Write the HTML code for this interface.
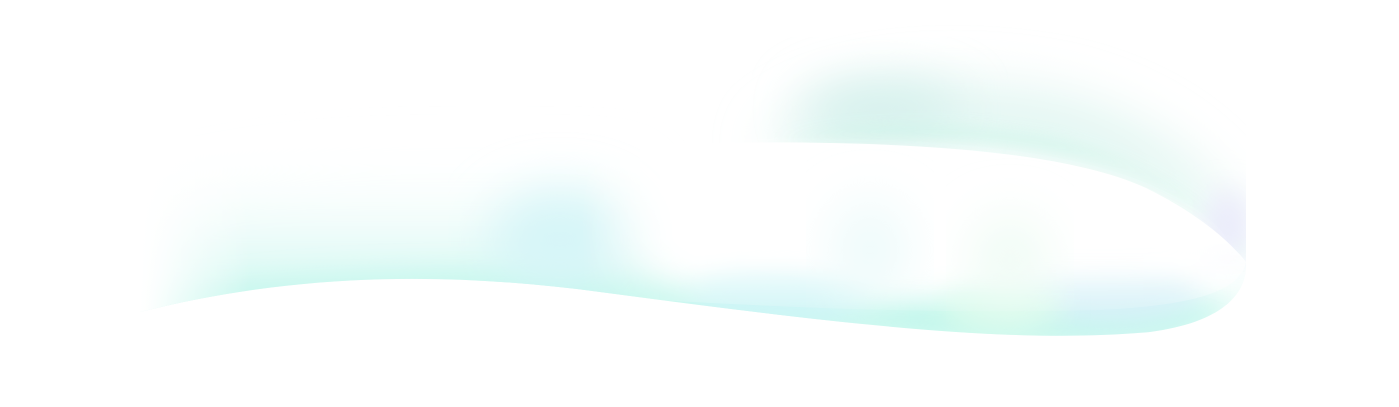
<!DOCTYPE html>
<html>
<head>
<meta charset="utf-8">
<style>
  html,body{margin:0;padding:0;background:#fff;}
  body{width:1399px;height:407px;overflow:hidden;}
  svg{display:block;}
</style>
</head>
<body>
<svg width="1399" height="407" viewBox="0 0 1399 407" xmlns="http://www.w3.org/2000/svg">
  <defs>
    <filter id="b40" x="-30%" y="-80%" width="160%" height="260%"><feGaussianBlur stdDeviation="40"/></filter>
    <filter id="b25" x="-30%" y="-80%" width="160%" height="260%"><feGaussianBlur stdDeviation="25"/></filter>
    <filter id="b14" x="-30%" y="-80%" width="160%" height="260%"><feGaussianBlur stdDeviation="14"/></filter>
    <filter id="b8" x="-30%" y="-80%" width="160%" height="260%"><feGaussianBlur stdDeviation="8"/></filter>
    <clipPath id="band">
      <path d="M140,312 C300,272 450,272 600,292 C800,318 1000,346 1150,332 C1225,322 1248,292 1246,262 L1246,0 L140,0 Z"/>
    </clipPath>
    <linearGradient id="leftHaze" x1="0" y1="0" x2="0" y2="1">
      <stop offset="0" stop-color="#ffffff" stop-opacity="0"/>
      <stop offset="0.55" stop-color="#e8fbf8"/>
      <stop offset="1" stop-color="#c2f6ec"/>
    </linearGradient>
    <linearGradient id="leftFade" x1="0" y1="0" x2="1" y2="0">
      <stop offset="0" stop-color="#ffffff"/>
      <stop offset="1" stop-color="#ffffff" stop-opacity="0"/>
    </linearGradient>
    <linearGradient id="lensFadeX" gradientUnits="userSpaceOnUse" x1="580" y1="0" x2="700" y2="0">
      <stop offset="0" stop-color="#000"/>
      <stop offset="1" stop-color="#fff"/>
    </linearGradient>
    <linearGradient id="lensFadeY" gradientUnits="userSpaceOnUse" x1="0" y1="140" x2="0" y2="320">
      <stop offset="0" stop-color="#fff"/>
      <stop offset="0.55" stop-color="#fff"/>
      <stop offset="1" stop-color="#000"/>
    </linearGradient>
    <mask id="lensMaskX"><rect x="0" y="0" width="1399" height="407" fill="url(#lensFadeX)"/></mask>
    <mask id="lensMaskY"><rect x="0" y="0" width="1399" height="407" fill="url(#lensFadeY)"/></mask>
  </defs>

  <g clip-path="url(#band)">
    <path filter="url(#b25)" fill="url(#leftHaze)"
      d="M150,330 L150,200 C300,150 500,140 640,160 L660,330 Z"/>
    <path filter="url(#b14)" fill="#c2f7ec"
      d="M150,335 C300,290 450,290 600,310 C800,335 1000,360 1150,345 C1225,335 1250,300 1250,262 L1250,300 C1150,300 1000,300 800,290 C600,275 400,262 150,300 Z"/>
    <ellipse cx="560" cy="240" rx="70" ry="50" fill="#d6f5f8" filter="url(#b25)"/>
    <ellipse cx="780" cy="295" rx="90" ry="30" fill="#cff5f7" filter="url(#b14)"/>
    <ellipse cx="1110" cy="290" rx="90" ry="35" fill="#d6f1f8" filter="url(#b14)"/>
    <ellipse cx="1000" cy="305" rx="60" ry="30" fill="#d8fbec" filter="url(#b14)"/>
    <rect x="140" y="0" width="110" height="407" fill="url(#leftFade)"/>

    <path filter="url(#b25)" fill="#e2f6f2"
      d="M760,150 C800,90 930,70 1060,95 C1160,120 1230,180 1250,250 L1250,260 C1200,200 1100,150 900,145 Z"/>
    <ellipse cx="880" cy="110" rx="80" ry="28" fill="#d4f0ec" filter="url(#b25)"/>
    <path filter="url(#b8)" fill="#c6f5e6" opacity="0.85"
      d="M780,142 C900,128 1060,135 1150,180 C1210,210 1240,240 1246,262 L1246,250 C1210,205 1140,160 1050,140 C950,122 850,125 780,142 Z"/>
    <ellipse cx="1228" cy="225" rx="22" ry="35" fill="#ebebfb" filter="url(#b14)"/>

    <g mask="url(#lensMaskX)">
      <path fill="#ffffff" mask="url(#lensMaskY)"
        d="M560,148 C800,136 1050,140 1150,190 C1220,225 1246,262 1246,262 C1240,290 1200,305 1100,310 C900,315 750,305 560,295 Z"/>
    </g>
    <path fill="#ffffff" filter="url(#b14)" opacity="0.9"
      d="M700,165 C850,155 1050,165 1140,205 C1200,232 1220,255 1210,268 C1100,278 900,270 700,245 Z"/>
    <ellipse cx="870" cy="250" rx="40" ry="50" fill="#eefbfb" filter="url(#b25)"/>
    <ellipse cx="1010" cy="260" rx="40" ry="45" fill="#f0fcf5" filter="url(#b25)"/>
  </g>
</svg>
</body>
</html>
